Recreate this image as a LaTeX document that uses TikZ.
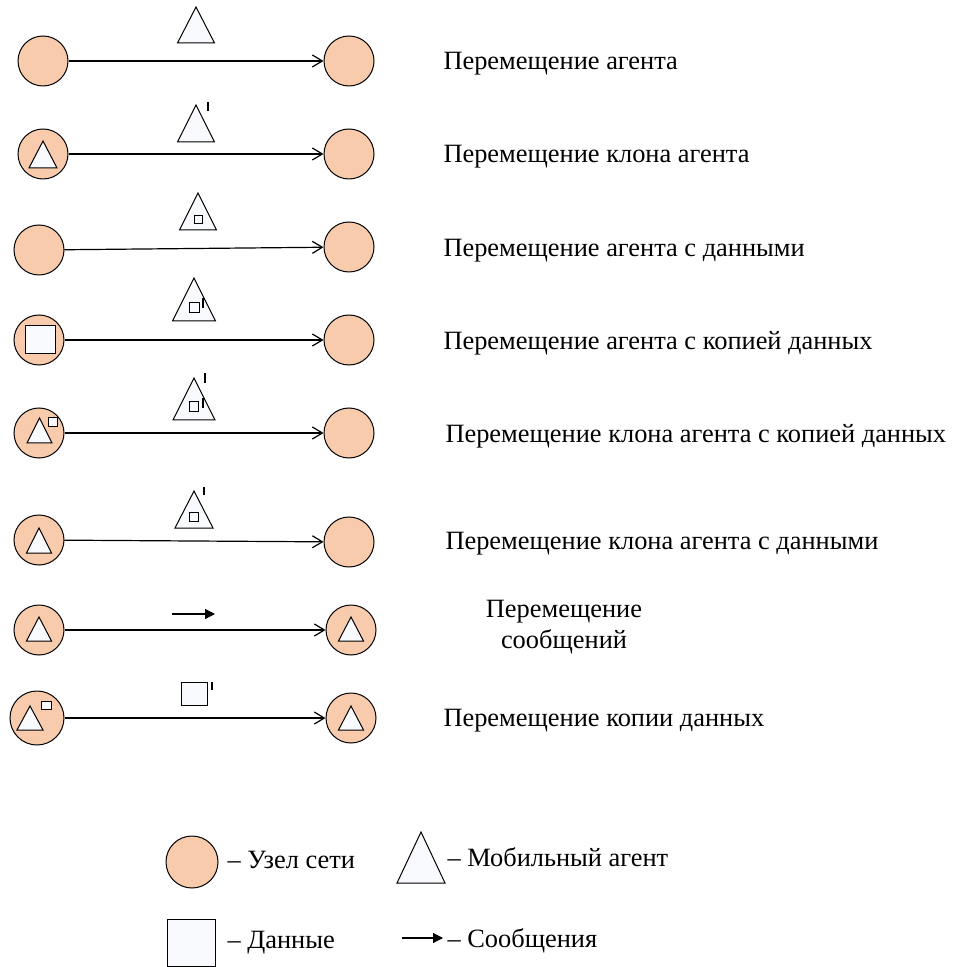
\documentclass[tikz,border=0pt]{standalone}
\usepackage{fontspec}
\setmainfont{Liberation Serif}
\usetikzlibrary{arrows.meta}

\definecolor{nodepeach}{RGB}{248,203,173}
\definecolor{symfill}{RGB}{249,250,253}

% agent triangle: centre x, base y, width, height
\newcommand{\agenttri}[4]{\draw[agentsym] (#1-#3/2,#2) -- (#1,#2-#4) -- (#1+#3/2,#2) -- cycle;}
% data square: two corners
\newcommand{\datasq}[4]{\draw[agentsym] (#1,#2) rectangle (#3,#4);}
% copy / clone mark
\newcommand{\primemark}[3]{\draw[line width=0.7pt] (#1,#2) -- (#1,#3);}

\begin{document}
\begin{tikzpicture}[x=0.5pt, y=-0.5pt, line width=0.5pt,
  netnode/.style={circle, draw, fill=nodepeach, minimum size=25pt, inner sep=0pt},
  agentsym/.style={draw, fill=symfill, line width=0.5pt},
  movearrow/.style={-{Straight Barb[length=5pt,width=6pt]}, line width=0.6pt},
  msgarrow/.style={-{Triangle[length=5pt,width=5pt]}, line width=0.6pt},
  rowtext/.style={anchor=base west, inner sep=0pt, font=\fontsize{13.2}{15.5}\selectfont}]

\useasboundingbox (0,0) rectangle (973,967);

% row 1
\node[netnode] (l1) at (43,61) {};
\node[netnode] (r1) at (349,61) {};
\draw[movearrow] (l1) -- (r1);
\agenttri{196}{43}{37}{36}
\node[rowtext] (t1) at (443,70) {Перемещение агента};

% row 2
\node[netnode] (l2) at (43,154) {};
\node[netnode] (r2) at (349,154) {};
\draw[movearrow] (l2) -- (r2);
\agenttri{43}{168}{28}{27}
\agenttri{196}{142}{37}{37}
\primemark{208}{102}{111}
\node[rowtext] (t2) at (443,163) {Перемещение клона агента};

% row 3
\node[netnode] (l3) at (39,250) {};
\node[netnode] (r3) at (349,247) {};
\draw[movearrow] (l3) -- (r3);
\agenttri{198}{230}{37}{37}
\datasq{194}{216}{202}{224}
\node[rowtext] (t3) at (443,257) {Перемещение агента с данными};

% row 4
\node[netnode] (l4) at (39,340) {};
\node[netnode] (r4) at (349,340) {};
\draw[movearrow] (l4) -- (r4);
\datasq{25}{326}{55}{354}
\agenttri{194}{321}{43}{43}
\datasq{189}{303}{199}{313}
\primemark{203}{298}{308}
\node[rowtext] (t4) at (443,350) {Перемещение агента с копией данных};

% row 5
\node[netnode] (l5) at (39,433) {};
\node[netnode] (r5) at (349,433) {};
\draw[movearrow] (l5) -- (r5);
\agenttri{39.5}{443}{25}{25}
\datasq{48}{418}{57}{427}
\agenttri{194}{420}{42}{42}
\datasq{189}{402}{198}{412}
\primemark{203}{398}{408}
\primemark{205}{373}{383}
\node[rowtext] (t5) at (445,443) {Перемещение клона агента с копией данных};

% row 6
\node[netnode] (l6) at (39,540) {};
\node[netnode] (r6) at (349,542) {};
\draw[movearrow] (l6) -- (r6);
\agenttri{39}{553}{25}{25}
\agenttri{194}{528}{38}{37}
\datasq{189}{512}{198}{521}
\primemark{204}{487}{495}
\node[rowtext] (t6) at (445,549) {Перемещение клона агента с данными};

% row 7
\node[netnode] (l7) at (39,630) {};
\node[netnode] (r7) at (351,630) {};
\draw[movearrow] (l7) -- (r7);
\agenttri{39}{641}{25}{24}
\agenttri{351}{641}{25}{24}
\draw[msgarrow] (172,614) -- (215,614);
\node[rowtext, anchor=center, align=center] (t7) at (564,627) {Перемещение\\сообщений};

% row 8
\node[netnode, minimum size=27pt] (l8) at (37,718) {};
\node[netnode] (r8) at (351,718) {};
\draw[movearrow] (l8) -- (r8);
\agenttri{30}{730}{26}{24}
\datasq{41}{701}{51}{709}
\agenttri{351}{730}{25}{24}
\datasq{181}{682}{207}{705}
\primemark{212}{682}{690}
\node[rowtext] (t8) at (443,726) {Перемещение копии данных};

% legend
\node[netnode, minimum size=26pt] (keynode) at (192,862) {};
\node[rowtext] (keynodetext) at (227,868) {– Узел сети};
\agenttri{421}{883}{48}{51}
\node[rowtext] (keyagenttext) at (447,866) {– Мобильный агент};
\datasq{167}{919}{215}{966}
\node[rowtext] (keydatatext) at (227,948) {– Данные};
\draw[msgarrow] (402,938) -- (443,938);
\node[rowtext] (keymsgtext) at (447,947) {– Сообщения};

\end{tikzpicture}
\end{document}
